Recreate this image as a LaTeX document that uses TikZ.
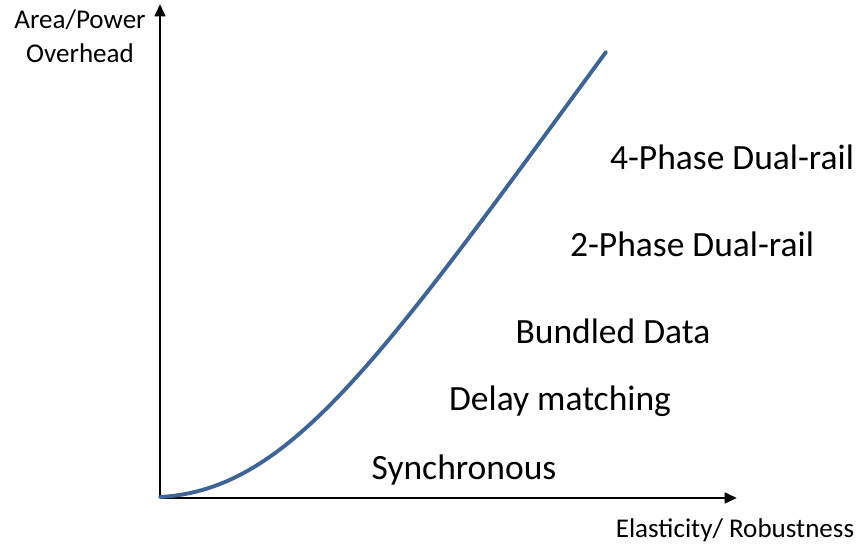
\documentclass[tikz,border=0pt]{standalone}
\usepackage{fontspec}
\setmainfont{Carlito}
\usetikzlibrary{arrows.meta}
\definecolor{ccurve}{HTML}{3E6496}
\definecolor{cink}{HTML}{000000}

\begin{document}
\begin{tikzpicture}[>={Triangle[length=7pt,width=6pt]}, line width=1.6pt]
  \useasboundingbox (0,0) rectangle (17.16,10.92);
  \coordinate (O)  at (3.2,0.96);
  \coordinate (YT) at (3.2,10.84);    % top of the overhead axis
  \coordinate (XT) at (14.74,0.96);   % end of the elasticity axis
  \coordinate (C0) at (3.2,0.98);     % curve start
  \coordinate (C1) at (12.12,9.88);   % curve end

  % axes
  \draw[cink, ->] (O) -- (YT);
  \draw[cink, ->] (O) -- (XT);

  % overhead versus robustness
  \draw[ccurve, line width=2.2pt, line cap=round]
    (C0) .. controls (5.8,1.12) and (7.6,3.72) .. (C1);

  % axis labels
  \node[font=\fontsize{15.4}{19.2}\selectfont, align=center] (ylab) at (1.6,10.2) {Area/Power\\Overhead};
  \node[font=\fontsize{15.4}{19.2}\selectfont] (xlab) at (14.7,0.32) {Elasticity/ Robustness};

  % protocol styles, cheapest at the bottom
  \node[font=\fontsize{20.2}{24}\selectfont] (fourph) at (14.64,7.78) {4-Phase Dual-rail};
  \node[font=\fontsize{20.2}{24}\selectfont] (twoph)  at (13.84,6.04) {2-Phase Dual-rail};
  \node[font=\fontsize{20.2}{24}\selectfont] (bund)   at (12.26,4.30) {Bundled Data};
  \node[font=\fontsize{20.2}{24}\selectfont] (delay)  at (11.2,2.90) {Delay matching};
  \node[font=\fontsize{20.2}{24}\selectfont] (sync)   at (9.28,1.52) {Synchronous};
\end{tikzpicture}
\end{document}
